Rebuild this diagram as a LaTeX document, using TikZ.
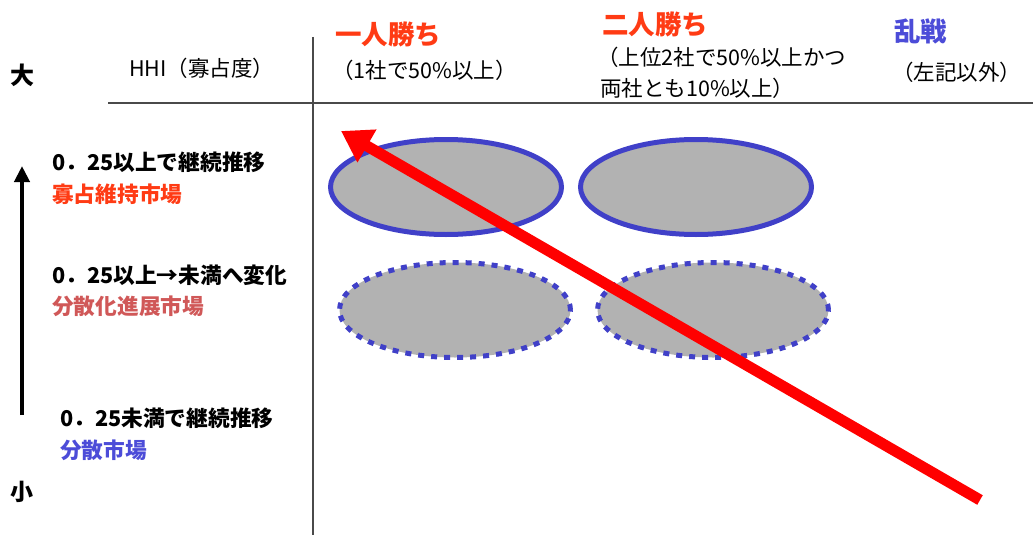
\documentclass[tikz,border=0pt]{standalone}
\usepackage{fontspec}
\setmainfont{Noto Sans CJK JP}
\usetikzlibrary{arrows.meta,shapes.geometric}
\definecolor{titlered}{HTML}{FF3B14}
\definecolor{titleblue}{HTML}{4C4CD8}
\definecolor{rosy}{HTML}{D05858}
\definecolor{ellblue}{HTML}{4040C8}
\definecolor{ellgray}{HTML}{B2B2B2}
\definecolor{rulegray}{HTML}{4A4A4A}
\begin{document}
\begin{tikzpicture}[x=1pt,y=-1pt,
  lbl/.style={inner sep=0pt,anchor=west,font=\bfseries},
  solidell/.style={ellipse,draw=ellblue,fill=ellgray,line width=5pt,minimum width=231pt,minimum height=95pt,inner sep=0pt},
  dotell/.style={solidell,dash pattern=on 6pt off 7pt},
  rule/.style={draw=rulegray,line width=1.6pt},
  sub/.style={lbl,font=\fontsize{21.5}{24}\selectfont},
  side/.style={lbl,font=\bfseries\fontsize{21.7}{24}\selectfont},
  head/.style={lbl,font=\bfseries\fontsize{26.5}{29}\selectfont}]
\useasboundingbox (0,0) rectangle (1033,535);
% rules
\coordinate (hl) at (108,103);
\coordinate (hr) at (1033,103);
\coordinate (vt) at (313,37);
\coordinate (vb) at (313,535);
\draw[rule] (hl) -- (hr);
\draw[rule] (vt) -- (vb);
% header
\node[inner sep=0pt,font=\bfseries\fontsize{24}{26}\selectfont] (dai) at (22,75) {大};
\node[lbl,font=\fontsize{21.5}{24}\selectfont] (hhi) at (129,68) {HHI（寡占度）};
\node[head,text=titlered] (hitori) at (335,34) {一人勝ち};
\node[sub] (hitorisub) at (332,70) {（1社で50\%以上）};
\node[head,text=titlered] (futari) at (602,24) {二人勝ち};
\node[sub] (futarisub1) at (597,57) {（上位2社で50\%以上かつ};
\node[sub] (futarisub2) at (600,88) {両社とも10\%以上）};
\node[head,text=titleblue] (ransen) at (894,31) {乱戦};
\node[sub] (ransensub) at (892,72) {（左記以外）};
% left labels
\node[side] (r1a) at (52,162) {0．25以上で継続推移};
\node[side,text=titlered] (r1b) at (52,194) {寡占維持市場};
\node[side] (r2a) at (52,275) {0．25以上→未満へ変化};
\node[side,text=rosy] (r2b) at (52,306) {分散化進展市場};
\node[side] (r3a) at (60,418) {0．25未満で継続推移};
\node[side,text=titleblue] (r3b) at (60,450) {分散市場};
\node[inner sep=0pt,font=\bfseries\fontsize{23}{25}\selectfont] (sho) at (22,492) {小};
% vertical arrow
\coordinate (va) at (22,415);
\coordinate (vbt) at (22,166);
\draw[line width=4.5pt,-{Triangle[length=16pt,width=15pt]}] (va) -- (vbt);
% ellipses
\node[solidell] (e1) at (446,187) {};
\node[solidell] (e2) at (696,187) {};
\node[dotell] (e3) at (455,310) {};
\node[dotell] (e4) at (713,310) {};
% red arrow
\coordinate (rs) at (980,500);
\coordinate (rt) at (341,131);
\draw[red,line width=11pt,-{Triangle[length=30pt,width=36pt]}] (rs) -- (rt);
\end{tikzpicture}
\end{document}
